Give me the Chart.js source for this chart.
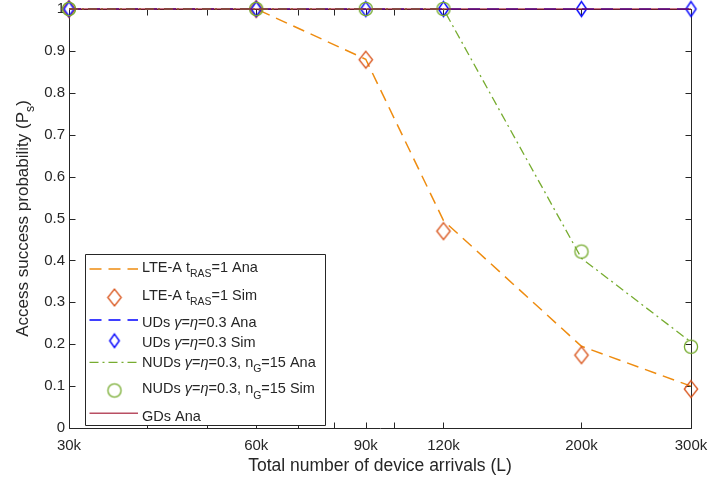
<!DOCTYPE html>
<html><head><meta charset="utf-8">
<script src="https://cdn.jsdelivr.net/npm/chart.js@4"></script>
<style>html,body{margin:0;padding:0;background:#fff;}#wrap{width:709px;height:484px;position:relative;}</style>
</head><body><div id="wrap"><canvas id="c" width="709" height="484"></canvas></div>
<script>
// ---- data ----
const categories = [30000, 60000, 90000, 120000, 200000, 300000];
const xTickLabels = ['30k', '60k', '90k', '120k', '200k', '300k'];
const minorTicks = [40000, 50000, 70000, 80000, 100000];
const lteAna  = [1, 1, 0.88, 0.495, 0.195, 0.10];
const lteSim  = [1, 1, 0.879, 0.47, 0.174, 0.093];
const udsAna  = [1, 1, 1, 1, 1, 1];
const udsSim  = [1, 1, 1, 1, 1, 1];
const nudsAna = [1, 1, 1, 1, 0.405, 0.205];
const nudsSim = [1, 1, 1, 1, 0.421, 0.194];
const gdsAna  = [1, 1, 1, 1, 1, 1];

const FONT = "'Liberation Sans', Arial, Helvetica, sans-serif";
const AX = '#262626';
const C_ORANGE = '#EE8C10', C_RED = '#D95319', C_BLUE = '#0000FF', C_GREEN = '#77AC30', C_GD = 'rgba(162,20,47,0.75)';

function makeDiamond(hw, hh, color, lw) {
  const c = document.createElement('canvas');
  c.width = Math.ceil(hw * 2 + 4); c.height = Math.ceil(hh * 2 + 4);
  const g = c.getContext('2d');
  const cx = c.width / 2, cy = c.height / 2;
  g.strokeStyle = color; g.lineWidth = lw;
  g.beginPath(); g.moveTo(cx, cy - hh); g.lineTo(cx + hw, cy); g.lineTo(cx, cy + hh); g.lineTo(cx - hw, cy); g.closePath(); g.stroke();
  return c;
}
function makeCircle(r, color, lw) {
  const c = document.createElement('canvas');
  c.width = Math.ceil(r * 2 + 4); c.height = c.width;
  const g = c.getContext('2d');
  g.strokeStyle = color; g.lineWidth = lw;
  g.beginPath(); g.arc(c.width / 2, c.height / 2, r, 0, Math.PI * 2); g.stroke();
  return c;
}
const mkLTE = makeDiamond(6.7, 8.4, C_RED, 1.3);
const mkUD = makeDiamond(5.1, 7.4, C_BLUE, 1.4);
const mkNUD = makeCircle(6.6, C_GREEN, 1.3);

const pts = arr => categories.map((x, i) => ({ x, y: arr[i] }));

function drawRich(ctx, x, y, segs, size) {
  let cx = x;
  for (const s of segs) {
    const fs = s.sub ? size * 0.72 : size;
    ctx.font = (s.it ? 'italic ' : '') + fs + 'px ' + FONT;
    ctx.fillText(s.t, cx, y + (s.sub ? size * 0.36 : 0));
    cx += ctx.measureText(s.t).width;
  }
  return cx - x;
}
function richWidth(ctx, segs, size) {
  let w = 0;
  for (const s of segs) {
    const fs = s.sub ? size * 0.72 : size;
    ctx.font = (s.it ? 'italic ' : '') + fs + 'px ' + FONT;
    w += ctx.measureText(s.t).width;
  }
  return w;
}

const legendItems = [
  { segs: [{t:'LTE-A t'},{t:'RAS',sub:1},{t:'=1 Ana'}], kind:'line', color:C_ORANGE, dash:[12,7], lw:1.5 },
  { segs: [{t:'LTE-A t'},{t:'RAS',sub:1},{t:'=1 Sim'}], kind:'mark', img:mkLTE },
  { segs: [{t:'UDs '},{t:'γ',it:1},{t:'='},{t:'η',it:1},{t:'=0.3 Ana'}], kind:'line', color:C_BLUE, dash:[12,7], lw:1.5 },
  { segs: [{t:'UDs '},{t:'γ',it:1},{t:'='},{t:'η',it:1},{t:'=0.3 Sim'}], kind:'mark', img:makeDiamond(4.8, 6.7, C_BLUE, 1.4) },
  { segs: [{t:'NUDs '},{t:'γ',it:1},{t:'='},{t:'η',it:1},{t:'=0.3, n'},{t:'G',sub:1},{t:'=15 Ana'}], kind:'line', color:C_GREEN, dash:[9,4,2,4], lw:1.3 },
  { segs: [{t:'NUDs '},{t:'γ',it:1},{t:'='},{t:'η',it:1},{t:'=0.3, n'},{t:'G',sub:1},{t:'=15 Sim'}], kind:'mark', img:mkNUD },
  { segs: [{t:'GDs Ana'}], kind:'line', color:C_GD, dash:[], lw:1.5 },
];
const legendTextBase = [271.5, 300, 326.5, 347, 366.5, 393.3, 420.5];
const legendSampleY = [269, 297.5, 320, 340.7, 362.3, 390.5, 413.3];

const decorPlugin = {
  id: 'decor',
  beforeDatasetsDraw(chart) {
    const { ctx, chartArea: a, scales: { x, y } } = chart;
    ctx.save();
    ctx.strokeStyle = AX; ctx.lineWidth = 1; ctx.setLineDash([]);
    const L = Math.round(a.left) + 0.5, R = Math.round(a.right) + 0.5, T = Math.round(a.top) + 0.5, B = Math.round(a.bottom) + 0.5;
    ctx.beginPath(); ctx.rect(L, T, R - L, B - T); ctx.stroke();
    const TL = 6;
    ctx.beginPath();
    for (const v of categories.concat(minorTicks)) {
      const px = Math.round(x.getPixelForValue(v)) + 0.5;
      ctx.moveTo(px, B); ctx.lineTo(px, B - TL);
      ctx.moveTo(px, T); ctx.lineTo(px, T + TL);
    }
    for (const t of y.ticks) {
      const py = Math.round(y.getPixelForValue(t.value)) + 0.5;
      ctx.moveTo(L, py); ctx.lineTo(L + TL, py);
      ctx.moveTo(R, py); ctx.lineTo(R - TL, py);
    }
    ctx.stroke();
    // y-axis title
    ctx.fillStyle = AX; ctx.textBaseline = 'alphabetic'; ctx.textAlign = 'left';
    const ySegs = [{t:'Access success probability (P'},{t:'s',sub:1},{t:')'}];
    const fs = 17;
    const w = richWidth(ctx, ySegs, fs);
    ctx.translate(28, (a.top + a.bottom) / 2);
    ctx.rotate(-Math.PI / 2);
    drawRich(ctx, -w / 2, 0, ySegs, fs);
    ctx.restore();
  },
  afterDraw(chart) {
    const { ctx } = chart;
    ctx.save();
    ctx.fillStyle = '#fff'; ctx.strokeStyle = AX; ctx.lineWidth = 1;
    ctx.beginPath(); ctx.rect(85.5, 254.5, 240, 171); ctx.fill(); ctx.stroke();
    legendItems.forEach((it, i) => {
      const sy = legendSampleY[i];
      if (it.kind === 'line') {
        ctx.strokeStyle = it.color; ctx.lineWidth = it.lw; ctx.setLineDash(it.dash);
        ctx.beginPath(); ctx.moveTo(89.5, sy); ctx.lineTo(138, sy); ctx.stroke();
        ctx.setLineDash([]);
      } else {
        ctx.drawImage(it.img, 114.5 - it.img.width / 2, sy - it.img.height / 2);
      }
      ctx.fillStyle = AX; ctx.textBaseline = 'alphabetic'; ctx.textAlign = 'left';
      drawRich(ctx, 142, legendTextBase[i], it.segs, 14.5);
    });
    ctx.restore();
  }
};

const ds = [
  { label: 'LTE-A Ana', data: pts(lteAna), borderColor: C_ORANGE, borderWidth: 1.5, borderDash: [12, 7], pointRadius: 0, showLine: true },
  { label: 'LTE-A Sim', data: pts(lteSim), showLine: false, pointStyle: mkLTE, pointRadius: 8 },
  { label: 'UDs Ana', data: pts(udsAna), borderColor: C_BLUE, borderWidth: 1.6, borderDash: [12, 7], pointRadius: 0, showLine: true },
  { label: 'UDs Sim', data: pts(udsSim), showLine: false, pointStyle: mkUD, pointRadius: 8 },
  { label: 'NUDs Ana', data: pts(nudsAna), borderColor: C_GREEN, borderWidth: 1.3, borderDash: [9, 4, 2, 4], pointRadius: 0, showLine: true },
  { label: 'NUDs Sim', data: pts(nudsSim), showLine: false, pointStyle: mkNUD, pointRadius: 8 },
  { label: 'GDs Ana', data: pts(gdsAna), borderColor: C_GD, borderWidth: 1.5, pointRadius: 0, showLine: true },
].map((d, i) => Object.assign({ order: 6 - i, clip: false, fill: false, tension: 0, pointHoverRadius: 0, backgroundColor: 'transparent' }, d));

new Chart(document.getElementById('c'), {
  type: 'line',
  data: { datasets: ds },
  plugins: [decorPlugin],
  options: {
    responsive: false, animation: false, devicePixelRatio: 1,
    layout: { padding: { top: 7, right: 18, left: 0, bottom: 0 } },
    plugins: { legend: { display: false }, tooltip: { enabled: false } },
    events: [],
    scales: {
      x: {
        type: 'logarithmic', min: 30000, max: 300000,
        afterBuildTicks: s => { s.ticks = categories.map(v => ({ value: v })); },
        afterFit: s => { s.height = 56; s.paddingLeft = 0; s.paddingRight = 0; },
        grid: { display: false, drawTicks: false },
        border: { display: false },
        ticks: { autoSkip: false, maxRotation: 0, minRotation: 0, padding: 9, color: AX, font: { family: FONT, size: 15 },
          callback: (v, i) => xTickLabels[i] },
        title: { display: true, text: 'Total number of device arrivals (L)', color: AX, font: { family: FONT, size: 17.5 }, padding: { top: 0, bottom: 7 } }
      },
      y: {
        type: 'linear', min: 0, max: 1,
        afterFit: s => { s.width = 69; s.paddingTop = 0; s.paddingBottom = 0; },
        grid: { display: false, drawTicks: false },
        border: { display: false },
        ticks: { stepSize: 0.1, padding: 4, color: AX, font: { family: FONT, size: 15 },
          callback: v => String(+v.toFixed(1)) }
      }
    }
  }
});
</script>
</body></html>
